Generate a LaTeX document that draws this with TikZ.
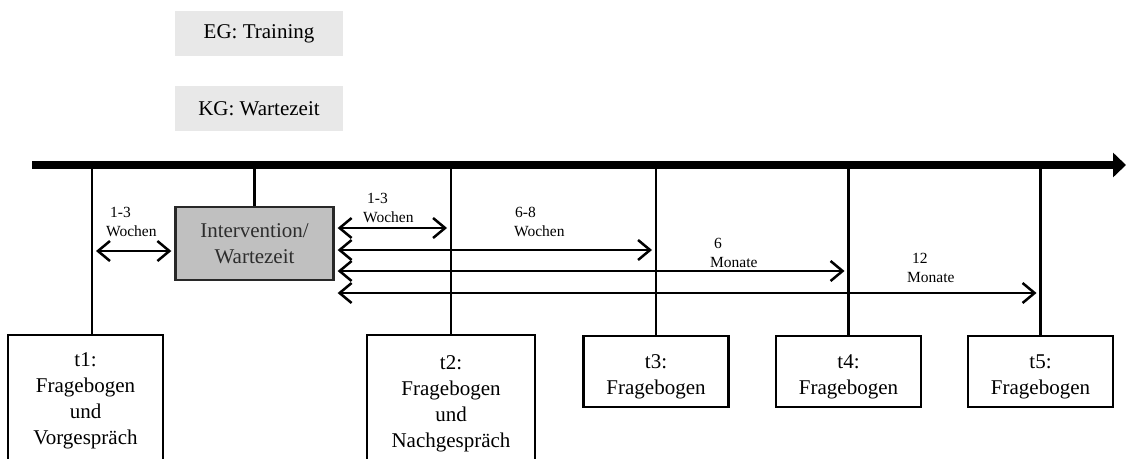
\documentclass[tikz,border=0pt]{standalone}
\usepackage{fontspec}
\setmainfont{Liberation Serif}
\usetikzlibrary{arrows.meta, positioning, calc}
\definecolor{legendgray}{RGB}{232, 232, 232}
\definecolor{ivgray}{RGB}{192, 192, 192}
\definecolor{ivtext}{RGB}{45, 45, 45}
\definecolor{ivborder}{RGB}{40, 40, 40}
\newcommand{\firstlinestrut}{\rule{0pt}{24pt}}

\begin{document}
\begin{tikzpicture}[x=1pt, y=-1pt,
    groupbox/.style={fill=legendgray, minimum width=168pt, minimum height=45pt, inner sep=0pt, font=\fontsize{21}{25}\selectfont},
    timebox/.style={draw, line width=2.3pt, minimum width=145pt, minimum height=71pt, inner sep=0pt, align=center, font=\fontsize{21}{26}\selectfont},
    tickline/.style={line width=2.4pt},
    spanarrow/.style={line width=2.5pt, {Straight Barb[length=12pt,width=20pt]}-{Straight Barb[length=12pt,width=20pt]}},
    spanlabel/.style={anchor=base west, align=left, inner sep=0pt, font=\fontsize{15.5}{19}\selectfont}
  ]
  \useasboundingbox (0,0) rectangle (1126,458);

  % Groups
  \node[groupbox] (eg) at (259, 33.5) {EG: Training};
  \node[groupbox] (kg) at (259, 108.5) {KG: Wartezeit};

  % Time axis
  \coordinate (barstart) at (32, 165);
  \coordinate (barend) at (1126, 165);
  \coordinate (k1) at (92, 165);

  % Intervention
  \node[draw=ivborder, fill=ivgray, line width=2.3pt, minimum width=158pt, minimum height=73pt, inner sep=0pt, align=center, text=ivtext, font=\fontsize{21}{26}\selectfont] (iv) at (254.5, 243.5) {Intervention/\\Wartezeit};

  % Measurement points
  \node[timebox, minimum width=155pt, minimum height=132pt] (t1) at (85.5, 401) {t1:\\Fragebogen\\und\\Vorgespräch};
  \node[timebox, minimum width=168pt, minimum height=138pt] (t2) at (451, 404) {t2:\\Fragebogen\\und\\Nachgespräch};
  \node[timebox] (t3) at (656, 371.5) {\firstlinestrut t3:\\Fragebogen};
  \node[timebox] (t4) at (848.5, 371.5) {\firstlinestrut t4:\\Fragebogen};
  \node[timebox] (t5) at (1040.5, 371.5) {\firstlinestrut t5:\\Fragebogen};

  % Ticks
  \draw[tickline] (k1) -- (k1 |- t1.north);
  \foreach \n in {iv, t2, t3, t4, t5}
    \draw[tickline] (\n.north) -- (\n.north |- barstart);
  \draw[line width=8pt, -{Triangle[length=13pt,width=24pt]}] (barstart) -- (barend);

  % Intervals
  \coordinate (r0) at (0, 251);
  \coordinate (r1) at (0, 228);
  \coordinate (r2) at (0, 250);
  \coordinate (r3) at (0, 271);
  \coordinate (r4) at (0, 293);
  \draw[spanarrow] ($(k1 |- r0)+(4,0)$) -- ($(iv.west |- r0)+(-3,0)$);
  \foreach \n/\r in {t2/r1, t3/r2, t4/r3, t5/r4}
    \draw[spanarrow] ($(iv.east |- \r)+(3,0)$) -- ($(\n.north |- \r)+(-4,0)$);

  % Interval labels
  \node[spanlabel] (l0) at (106, 236) {\hspace*{4pt}1-3\\Wochen};
  \node[spanlabel] (l1) at (363, 222) {\hspace*{4pt}1-3\\Wochen};
  \node[spanlabel] (l2) at (514, 236) {\hspace*{1pt}6-8\\Wochen};
  \node[spanlabel] (l3) at (710, 267) {\hspace*{4pt}6\\Monate};
  \node[spanlabel] (l4) at (907, 282) {\hspace*{5pt}12\\Monate};
\end{tikzpicture}
\end{document}
